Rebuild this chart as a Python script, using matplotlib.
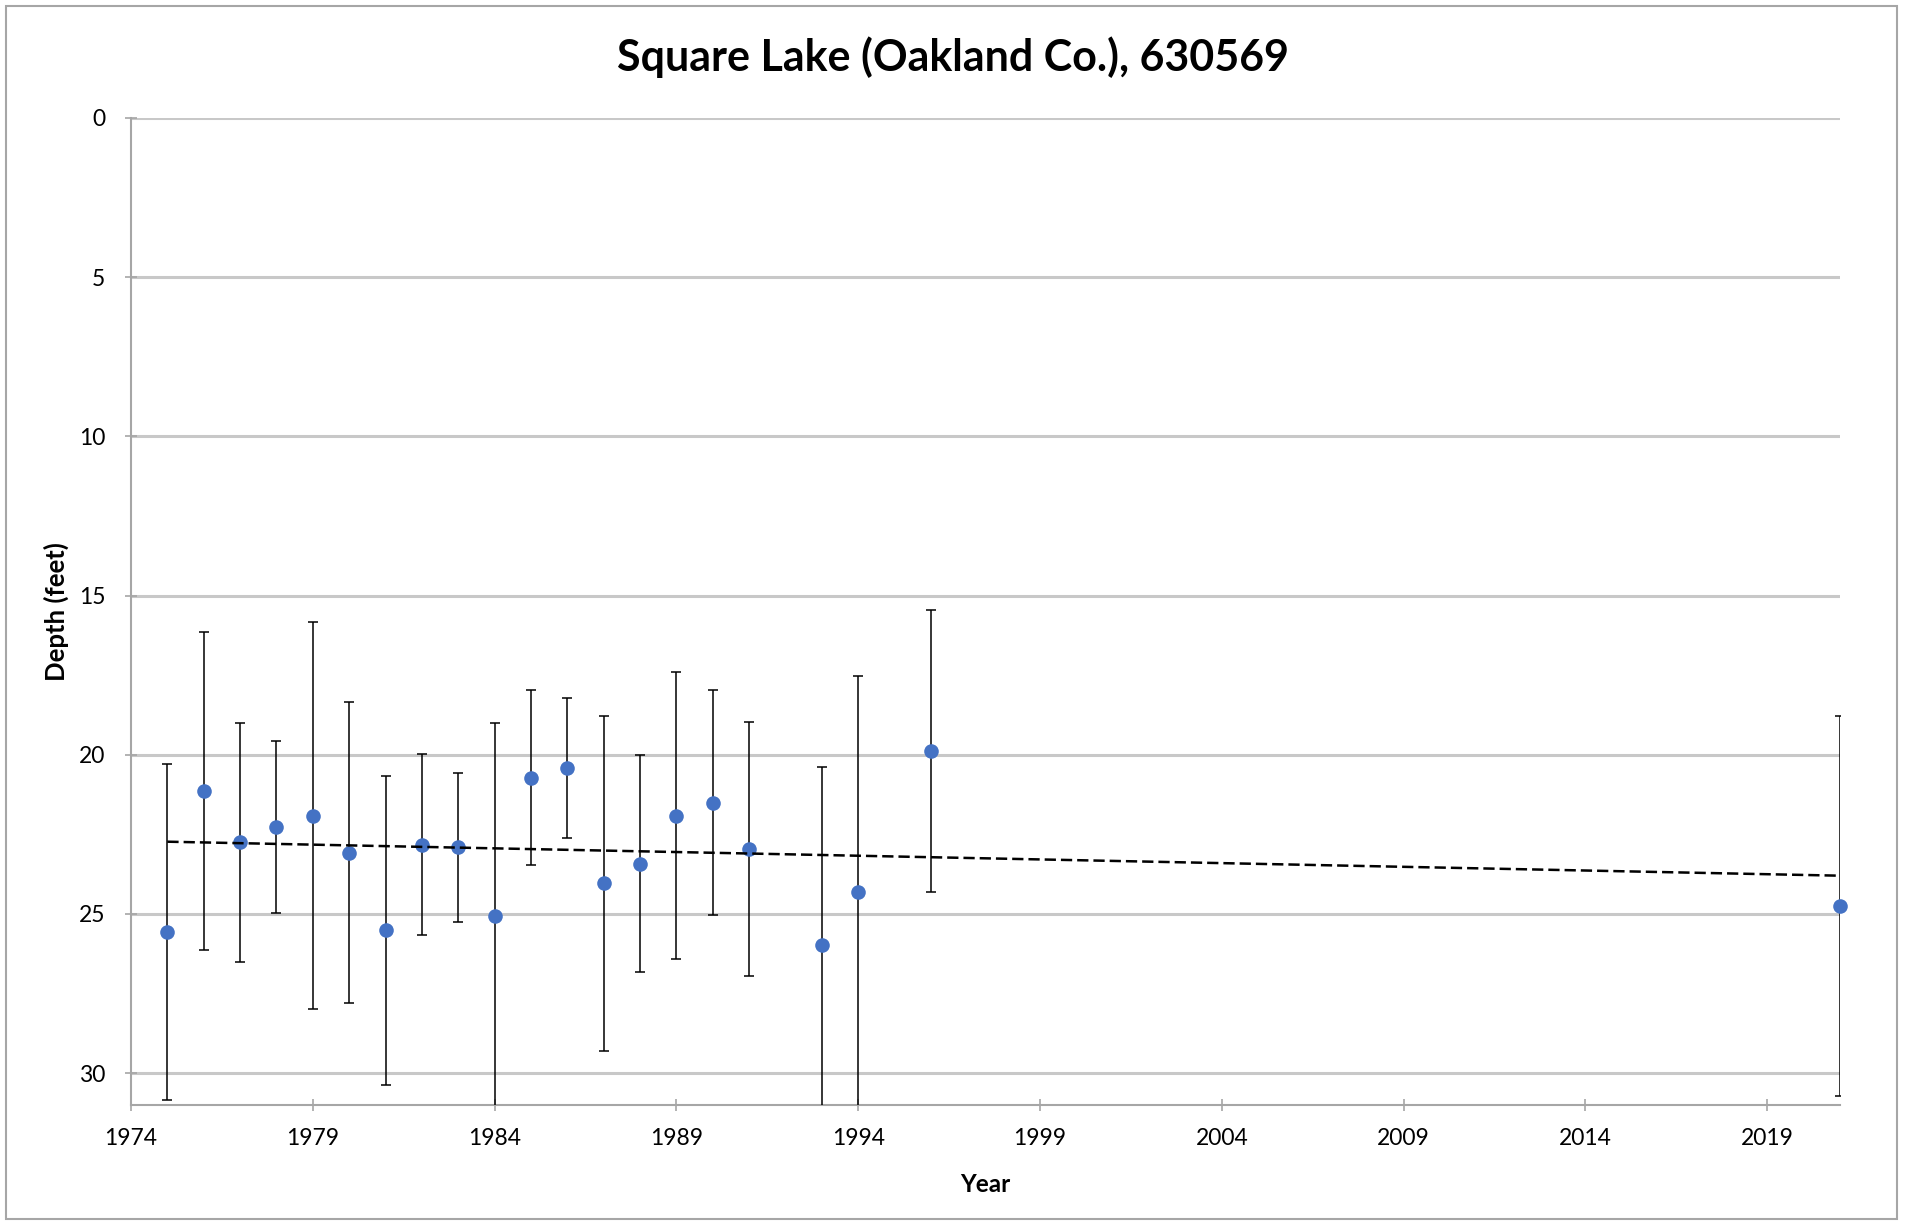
import numpy as np
import matplotlib
matplotlib.use("Agg")
import matplotlib.pyplot as plt
from matplotlib.patches import Rectangle

# mean depth per year (feet) and +/- spread
years = [1975, 1976, 1977, 1978, 1979, 1980, 1981, 1982, 1983, 1984, 1985,
         1986, 1987, 1988, 1989, 1990, 1991, 1993, 1994, 1996, 2021]
depth = [25.56, 21.13, 22.75, 22.28, 21.91, 23.07, 25.51, 22.82, 22.91, 25.06, 20.72,
         20.41, 24.04, 23.42, 21.91, 21.51, 22.96, 25.99, 24.31, 19.88, 24.75]
err = [5.28, 5.0, 3.75, 2.7, 6.07, 4.72, 4.85, 2.83, 2.33, 6.07, 2.75,
       2.2, 5.25, 3.4, 4.5, 3.53, 3.98, 5.6, 6.79, 4.43, 5.97]
xticks = [1974, 1979, 1984, 1989, 1994, 1999, 2004, 2009, 2014, 2019]
yticks = [0, 5, 10, 15, 20, 25, 30]

plt.rcParams["font.family"] = ["Lato", "DejaVu Sans"]

fig = plt.figure(figsize=(19.06, 12.25), dpi=100)
ax = fig.add_axes([131 / 1906, 1 - 1105 / 1225, (1840 - 131) / 1906, (1105 - 118) / 1225])

ax.set_axisbelow(True)
ax.yaxis.grid(True, color="#C8C8C8", lw=2.2)
ax.xaxis.grid(False)

ax.errorbar(years, depth, yerr=err, fmt="none", ecolor="black", elinewidth=1.1,
            capsize=3.5, capthick=1.1, zorder=3)
ax.plot(years, depth, "o", color="#4472C4", ms=10.5, mec="none", zorder=4, clip_on=False)

# linear trendline
k, b = np.polyfit(years, depth, 1)
tx = np.array([years[0], years[-1]])
ax.plot(tx, k * tx + b, color="black", lw=1.8, ls=(0, (4.5, 2)), zorder=5)

ax.set_xlim(1974, 2021)
ax.set_ylim(31, 0)
ax.set_xticks(xticks)
ax.set_yticks(yticks)
ax.tick_params(axis="both", direction="inout", length=9, width=1.2, color="#A6A6A6",
               labelsize=16.5, labelcolor="black")
ax.tick_params(axis="x", pad=12)
ax.tick_params(axis="y", pad=14)
for s in ["top", "right"]:
    ax.spines[s].set_visible(False)
for s in ["left", "bottom"]:
    ax.spines[s].set_color("#A6A6A6")
    ax.spines[s].set_linewidth(1.5)

ax.set_xlabel("Year", fontsize=17.5, fontweight="bold", labelpad=17)
ax.set_ylabel("Depth (feet)", fontsize=18.5, fontweight="bold", labelpad=7)
fig.text(0.5, 1 - 57 / 1225, "Square Lake (Oakland Co.), 630569", ha="center", va="center",
         fontsize=31, fontweight="bold")

fig.patches.append(Rectangle((6 / 1906, 6 / 1225), 1 - 15 / 1906, 1 - 12 / 1225,
                             transform=fig.transFigure, fill=False,
                             edgecolor="#A6A6A6", lw=1.5))

fig.savefig("out.png", dpi=100)
